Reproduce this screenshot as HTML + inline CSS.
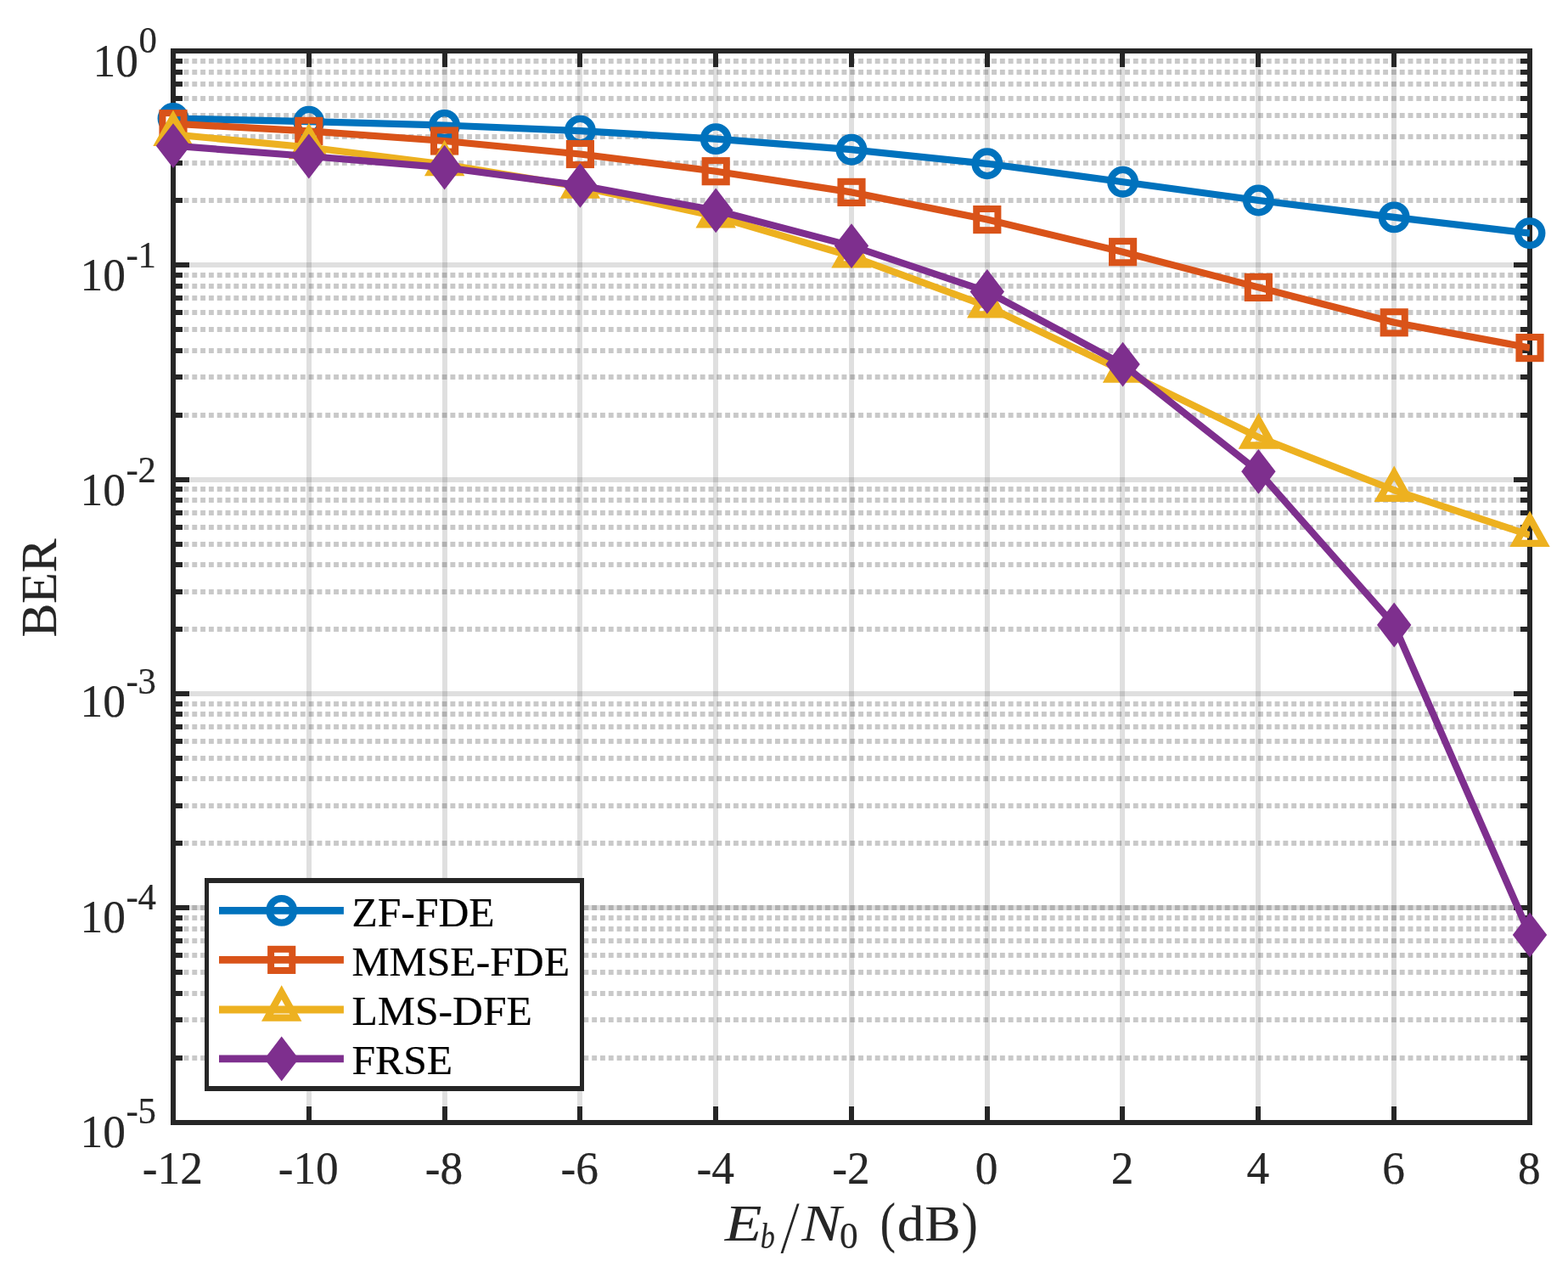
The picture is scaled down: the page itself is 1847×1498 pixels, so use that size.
<!DOCTYPE html>
<html lang="en"><head><meta charset="utf-8"><title>BER vs Eb/N0</title>
<style>html,body{margin:0;padding:0;background:#fff}body{width:1847px;height:1498px;overflow:hidden}svg{display:block}text{font-family:"Liberation Serif","Times New Roman",Times,serif;fill:#262626;stroke:#262626;stroke-width:0.25}.it{font-style:italic}.lg text{fill:#000;stroke:#000}</style></head><body>
<svg width="1847" height="1498" viewBox="0 0 1847 1498">
<rect width="1847" height="1498" fill="#fff"/>
<clipPath id="cp"><rect x="204" y="60" width="1598" height="1262"/></clipPath>
<g stroke="#262626" stroke-opacity="0.15" stroke-width="6" fill="none" shape-rendering="crispEdges"><path d="M364 60V1322"/><path d="M524 60V1322"/><path d="M683 60V1322"/><path d="M843 60V1322"/><path d="M1003 60V1322"/><path d="M1163 60V1322"/><path d="M1322 60V1322"/><path d="M1482 60V1322"/><path d="M1642 60V1322"/><path d="M204 312H1802"/><path d="M204 565H1802"/><path d="M204 817H1802"/><path d="M204 1069H1802"/></g>
<g stroke="#262626" stroke-opacity="0.25" stroke-width="6" fill="none" stroke-dasharray="5.9 3.91"><path d="M206.69 236H1802"/><path d="M206.69 192H1802"/><path d="M206.69 161H1802"/><path d="M206.69 136H1802"/><path d="M206.69 116H1802"/><path d="M206.69 99H1802"/><path d="M206.69 85H1802"/><path d="M206.69 72H1802"/><path d="M206.69 489H1802"/><path d="M206.69 444H1802"/><path d="M206.69 413H1802"/><path d="M206.69 388H1802"/><path d="M206.69 368H1802"/><path d="M206.69 351H1802"/><path d="M206.69 337H1802"/><path d="M206.69 324H1802"/><path d="M206.69 741H1802"/><path d="M206.69 697H1802"/><path d="M206.69 665H1802"/><path d="M206.69 641H1802"/><path d="M206.69 621H1802"/><path d="M206.69 604H1802"/><path d="M206.69 589H1802"/><path d="M206.69 576H1802"/><path d="M206.69 993H1802"/><path d="M206.69 949H1802"/><path d="M206.69 917H1802"/><path d="M206.69 893H1802"/><path d="M206.69 873H1802"/><path d="M206.69 856H1802"/><path d="M206.69 841H1802"/><path d="M206.69 829H1802"/><path d="M206.69 1246H1802"/><path d="M206.69 1201H1802"/><path d="M206.69 1170H1802"/><path d="M206.69 1145H1802"/><path d="M206.69 1125H1802"/><path d="M206.69 1108H1802"/><path d="M206.69 1094H1802"/><path d="M206.69 1081H1802"/><path d="M206.69 1069H1802"/></g>
<g stroke="#262626" stroke-width="6" fill="none" stroke-linecap="square" shape-rendering="crispEdges"><path d="M364 60V76"/><path d="M364 1322V1306"/><path d="M524 60V76"/><path d="M524 1322V1306"/><path d="M683 60V76"/><path d="M683 1322V1306"/><path d="M843 60V76"/><path d="M843 1322V1306"/><path d="M1003 60V76"/><path d="M1003 1322V1306"/><path d="M1163 60V76"/><path d="M1163 1322V1306"/><path d="M1322 60V76"/><path d="M1322 1322V1306"/><path d="M1482 60V76"/><path d="M1482 1322V1306"/><path d="M1642 60V76"/><path d="M1642 1322V1306"/><path d="M204 236H212"/><path d="M1802 236H1794"/><path d="M204 192H212"/><path d="M1802 192H1794"/><path d="M204 161H212"/><path d="M1802 161H1794"/><path d="M204 136H212"/><path d="M1802 136H1794"/><path d="M204 116H212"/><path d="M1802 116H1794"/><path d="M204 99H212"/><path d="M1802 99H1794"/><path d="M204 85H212"/><path d="M1802 85H1794"/><path d="M204 72H212"/><path d="M1802 72H1794"/><path d="M204 312H220"/><path d="M1802 312H1786"/><path d="M204 489H212"/><path d="M1802 489H1794"/><path d="M204 444H212"/><path d="M1802 444H1794"/><path d="M204 413H212"/><path d="M1802 413H1794"/><path d="M204 388H212"/><path d="M1802 388H1794"/><path d="M204 368H212"/><path d="M1802 368H1794"/><path d="M204 351H212"/><path d="M1802 351H1794"/><path d="M204 337H212"/><path d="M1802 337H1794"/><path d="M204 324H212"/><path d="M1802 324H1794"/><path d="M204 565H220"/><path d="M1802 565H1786"/><path d="M204 741H212"/><path d="M1802 741H1794"/><path d="M204 697H212"/><path d="M1802 697H1794"/><path d="M204 665H212"/><path d="M1802 665H1794"/><path d="M204 641H212"/><path d="M1802 641H1794"/><path d="M204 621H212"/><path d="M1802 621H1794"/><path d="M204 604H212"/><path d="M1802 604H1794"/><path d="M204 589H212"/><path d="M1802 589H1794"/><path d="M204 576H212"/><path d="M1802 576H1794"/><path d="M204 817H220"/><path d="M1802 817H1786"/><path d="M204 993H212"/><path d="M1802 993H1794"/><path d="M204 949H212"/><path d="M1802 949H1794"/><path d="M204 917H212"/><path d="M1802 917H1794"/><path d="M204 893H212"/><path d="M1802 893H1794"/><path d="M204 873H212"/><path d="M1802 873H1794"/><path d="M204 856H212"/><path d="M1802 856H1794"/><path d="M204 841H212"/><path d="M1802 841H1794"/><path d="M204 829H212"/><path d="M1802 829H1794"/><path d="M204 1069H220"/><path d="M1802 1069H1786"/><path d="M204 1246H212"/><path d="M1802 1246H1794"/><path d="M204 1201H212"/><path d="M1802 1201H1794"/><path d="M204 1170H212"/><path d="M1802 1170H1794"/><path d="M204 1145H212"/><path d="M1802 1145H1794"/><path d="M204 1125H212"/><path d="M1802 1125H1794"/><path d="M204 1108H212"/><path d="M1802 1108H1794"/><path d="M204 1094H212"/><path d="M1802 1094H1794"/><path d="M204 1081H212"/><path d="M1802 1081H1794"/><rect x="204" y="60" width="1598" height="1262" stroke-linejoin="miter"/></g>
<g><polyline points="204,139.5 363.8,143.2 523.6,147.5 683.4,154.1 843.2,163.6 1003,176.2 1162.8,192.8 1322.6,214.2 1482.4,236 1642.2,255.9 1802,274.6" fill="none" stroke="#0072BD" stroke-width="8.2" stroke-linejoin="round" clip-path="url(#cp)"/>
<circle cx="204" cy="139.5" r="14.3" fill="none" stroke="#0072BD" stroke-width="8.3"/>
<circle cx="363.8" cy="143.2" r="14.3" fill="none" stroke="#0072BD" stroke-width="8.3"/>
<circle cx="523.6" cy="147.5" r="14.3" fill="none" stroke="#0072BD" stroke-width="8.3"/>
<circle cx="683.4" cy="154.1" r="14.3" fill="none" stroke="#0072BD" stroke-width="8.3"/>
<circle cx="843.2" cy="163.6" r="14.3" fill="none" stroke="#0072BD" stroke-width="8.3"/>
<circle cx="1003" cy="176.2" r="14.3" fill="none" stroke="#0072BD" stroke-width="8.3"/>
<circle cx="1162.8" cy="192.8" r="14.3" fill="none" stroke="#0072BD" stroke-width="8.3"/>
<circle cx="1322.6" cy="214.2" r="14.3" fill="none" stroke="#0072BD" stroke-width="8.3"/>
<circle cx="1482.4" cy="236" r="14.3" fill="none" stroke="#0072BD" stroke-width="8.3"/>
<circle cx="1642.2" cy="255.9" r="14.3" fill="none" stroke="#0072BD" stroke-width="8.3"/>
<circle cx="1802" cy="274.6" r="14.3" fill="none" stroke="#0072BD" stroke-width="8.3"/>
</g>
<g><polyline points="204,145.7 363.8,154.4 523.6,166 683.4,181.5 843.2,201.7 1003,226.4 1162.8,258.6 1322.6,296.7 1482.4,338.4 1642.2,379.8 1802,409.6" fill="none" stroke="#D95319" stroke-width="8.2" stroke-linejoin="round" clip-path="url(#cp)"/>
<rect x="191.42" y="133.12" width="25.16" height="25.16" fill="none" stroke="#D95319" stroke-width="8"/>
<rect x="351.22" y="141.82" width="25.16" height="25.16" fill="none" stroke="#D95319" stroke-width="8"/>
<rect x="511.02" y="153.42" width="25.16" height="25.16" fill="none" stroke="#D95319" stroke-width="8"/>
<rect x="670.82" y="168.92" width="25.16" height="25.16" fill="none" stroke="#D95319" stroke-width="8"/>
<rect x="830.62" y="189.12" width="25.16" height="25.16" fill="none" stroke="#D95319" stroke-width="8"/>
<rect x="990.42" y="213.82" width="25.16" height="25.16" fill="none" stroke="#D95319" stroke-width="8"/>
<rect x="1150.22" y="246.02" width="25.16" height="25.16" fill="none" stroke="#D95319" stroke-width="8"/>
<rect x="1310.02" y="284.12" width="25.16" height="25.16" fill="none" stroke="#D95319" stroke-width="8"/>
<rect x="1469.82" y="325.82" width="25.16" height="25.16" fill="none" stroke="#D95319" stroke-width="8"/>
<rect x="1629.62" y="367.22" width="25.16" height="25.16" fill="none" stroke="#D95319" stroke-width="8"/>
<rect x="1789.42" y="397.02" width="25.16" height="25.16" fill="none" stroke="#D95319" stroke-width="8"/>
</g>
<g><polyline points="204,158.3 363.8,173.5 523.6,193.5 683.4,220 843.2,254.7 1003,301.8 1162.8,360.7 1322.6,436.9 1482.4,514.9 1642.2,577.3 1802,630.2" fill="none" stroke="#EDB120" stroke-width="8.2" stroke-linejoin="round" clip-path="url(#cp)"/>
<path d="M204 138.1L220.65 167.9L187.35 167.9Z" fill="none" stroke="#EDB120" stroke-width="8.3" stroke-linejoin="miter" stroke-miterlimit="10"/>
<path d="M363.8 153.3L380.45 183.1L347.15 183.1Z" fill="none" stroke="#EDB120" stroke-width="8.3" stroke-linejoin="miter" stroke-miterlimit="10"/>
<path d="M523.6 173.3L540.25 203.1L506.95 203.1Z" fill="none" stroke="#EDB120" stroke-width="8.3" stroke-linejoin="miter" stroke-miterlimit="10"/>
<path d="M683.4 199.8L700.05 229.6L666.75 229.6Z" fill="none" stroke="#EDB120" stroke-width="8.3" stroke-linejoin="miter" stroke-miterlimit="10"/>
<path d="M843.2 234.5L859.85 264.3L826.55 264.3Z" fill="none" stroke="#EDB120" stroke-width="8.3" stroke-linejoin="miter" stroke-miterlimit="10"/>
<path d="M1003 281.6L1019.65 311.4L986.35 311.4Z" fill="none" stroke="#EDB120" stroke-width="8.3" stroke-linejoin="miter" stroke-miterlimit="10"/>
<path d="M1162.8 340.5L1179.45 370.3L1146.15 370.3Z" fill="none" stroke="#EDB120" stroke-width="8.3" stroke-linejoin="miter" stroke-miterlimit="10"/>
<path d="M1322.6 416.7L1339.25 446.5L1305.95 446.5Z" fill="none" stroke="#EDB120" stroke-width="8.3" stroke-linejoin="miter" stroke-miterlimit="10"/>
<path d="M1482.4 494.7L1499.05 524.5L1465.75 524.5Z" fill="none" stroke="#EDB120" stroke-width="8.3" stroke-linejoin="miter" stroke-miterlimit="10"/>
<path d="M1642.2 557.1L1658.85 586.9L1625.55 586.9Z" fill="none" stroke="#EDB120" stroke-width="8.3" stroke-linejoin="miter" stroke-miterlimit="10"/>
<path d="M1802 610L1818.65 639.8L1785.35 639.8Z" fill="none" stroke="#EDB120" stroke-width="8.3" stroke-linejoin="miter" stroke-miterlimit="10"/>
</g>
<g><polyline points="204,171.7 363.8,184 523.6,197.2 683.4,218.4 843.2,247.8 1003,289.6 1162.8,343.4 1322.6,429.1 1482.4,555.3 1642.2,736 1802,1101" fill="none" stroke="#7E2F8E" stroke-width="8.2" stroke-linejoin="round" clip-path="url(#cp)"/>
<path d="M204 145.3L224.2 171.7L204 198.1L183.8 171.7Z" fill="#7E2F8E"/>
<path d="M363.8 157.6L384 184L363.8 210.4L343.6 184Z" fill="#7E2F8E"/>
<path d="M523.6 170.8L543.8 197.2L523.6 223.6L503.4 197.2Z" fill="#7E2F8E"/>
<path d="M683.4 192L703.6 218.4L683.4 244.8L663.2 218.4Z" fill="#7E2F8E"/>
<path d="M843.2 221.4L863.4 247.8L843.2 274.2L823 247.8Z" fill="#7E2F8E"/>
<path d="M1003 263.2L1023.2 289.6L1003 316L982.8 289.6Z" fill="#7E2F8E"/>
<path d="M1162.8 317L1183 343.4L1162.8 369.8L1142.6 343.4Z" fill="#7E2F8E"/>
<path d="M1322.6 402.7L1342.8 429.1L1322.6 455.5L1302.4 429.1Z" fill="#7E2F8E"/>
<path d="M1482.4 528.9L1502.6 555.3L1482.4 581.7L1462.2 555.3Z" fill="#7E2F8E"/>
<path d="M1642.2 709.6L1662.4 736L1642.2 762.4L1622 736Z" fill="#7E2F8E"/>
<path d="M1802 1074.6L1822.2 1101L1802 1127.4L1781.8 1101Z" fill="#7E2F8E"/>
</g>
<g font-size="55" text-anchor="middle"><text transform="translate(203.4 1393.9) scale(0.97 1)">-12</text><text transform="translate(363.2 1393.9) scale(0.97 1)">-10</text><text transform="translate(523 1393.9) scale(0.97 1)">-8</text><text transform="translate(682.8 1393.9) scale(0.97 1)">-6</text><text transform="translate(842.6 1393.9) scale(0.97 1)">-4</text><text transform="translate(1002.4 1393.9) scale(0.97 1)">-2</text><text transform="translate(1162.2 1393.9) scale(0.97 1)">0</text><text transform="translate(1322 1393.9) scale(0.97 1)">2</text><text transform="translate(1481.8 1393.9) scale(0.97 1)">4</text><text transform="translate(1641.6 1393.9) scale(0.97 1)">6</text><text transform="translate(1801.4 1393.9) scale(0.97 1)">8</text></g>
<g font-size="55"><text transform="translate(109.55 89.6) scale(0.97 1)">10<tspan font-size="44" dx="0.62" dy="-27.2">0</tspan></text><text transform="translate(94.6 342) scale(0.97 1)">10<tspan font-size="44" dx="0.46" dy="-27.2">-1</tspan></text><text transform="translate(94.6 595.1) scale(0.97 1)">10<tspan font-size="44" dx="0.46" dy="-27.2">-2</tspan></text><text transform="translate(94.6 844) scale(0.97 1)">10<tspan font-size="44" dx="0.46" dy="-27.2">-3</tspan></text><text transform="translate(94.6 1097.9) scale(0.97 1)">10<tspan font-size="44" dx="0.46" dy="-27.2">-4</tspan></text><text transform="translate(94.6 1350.5) scale(0.97 1)">10<tspan font-size="44" dx="0.46" dy="-27.2">-5</tspan></text></g>
<text font-size="58.67" text-anchor="middle" transform="translate(66.1 692.4) rotate(-90) scale(1.017 1)">BER</text>
<text style="white-space:pre"><tspan class="it" x="853.72" y="1460.8" font-size="60.61" textLength="43.72" lengthAdjust="spacingAndGlyphs" style="stroke:none">E</tspan><tspan class="it" x="895.83" y="1469.88" font-size="42" textLength="17.09" lengthAdjust="spacingAndGlyphs" style="stroke-width:0.2">b</tspan><tspan x="918.8" y="1474.82" font-size="88.12" textLength="23.65" lengthAdjust="spacingAndGlyphs" style="stroke:#fff;stroke-width:1.1">/</tspan><tspan class="it" x="944.35" y="1460.8" font-size="61.08" textLength="46.83" lengthAdjust="spacingAndGlyphs" style="stroke:none">N</tspan><tspan x="988.97" y="1470.36" font-size="44.3" textLength="21.67" lengthAdjust="spacingAndGlyphs" style="stroke-width:0.2">0</tspan><tspan font-size="20"> </tspan><tspan x="1036.75" y="1462.26" font-size="65.44" textLength="18.15" lengthAdjust="spacingAndGlyphs" style="stroke-width:0.2">(</tspan><tspan x="1057.01" y="1460.82" font-size="58.29" textLength="31.32" lengthAdjust="spacingAndGlyphs" style="stroke-width:0.2">d</tspan><tspan x="1089.3" y="1460.8" font-size="60" textLength="42.17" lengthAdjust="spacingAndGlyphs" style="stroke-width:0.2">B</tspan><tspan x="1132.79" y="1462.26" font-size="65.44" textLength="18.96" lengthAdjust="spacingAndGlyphs" style="stroke-width:0.2">)</tspan></text>
<rect x="243.5" y="1037" width="442" height="245" fill="#fff" stroke="#262626" stroke-width="5.4" shape-rendering="crispEdges"/>
<g class="lg">
<path d="M258 1072.4H404.9" stroke="#0072BD" stroke-width="8.8" fill="none"/>
<circle cx="331.7" cy="1072.4" r="14.3" fill="none" stroke="#0072BD" stroke-width="8.3"/>
<text font-size="48" transform="translate(414.4 1090.8) scale(1.035 1)">ZF-FDE</text>
<path d="M258 1130.4H404.9" stroke="#D95319" stroke-width="8.8" fill="none"/>
<rect x="319.12" y="1117.82" width="25.16" height="25.16" fill="none" stroke="#D95319" stroke-width="8"/>
<text font-size="48" transform="translate(414.4 1148.9) scale(1.035 1)">MMSE-FDE</text>
<path d="M258 1189H404.9" stroke="#EDB120" stroke-width="8.8" fill="none"/>
<path d="M331.7 1168.8L348.35 1198.6L315.05 1198.6Z" fill="none" stroke="#EDB120" stroke-width="8.3" stroke-linejoin="miter" stroke-miterlimit="10"/>
<text font-size="48" transform="translate(414.4 1206.7) scale(1.035 1)">LMS-DFE</text>
<path d="M258 1246.9H404.9" stroke="#7E2F8E" stroke-width="8.8" fill="none"/>
<path d="M331.7 1220.5L351.9 1246.9L331.7 1273.3L311.5 1246.9Z" fill="#7E2F8E"/>
<text font-size="48" transform="translate(414.4 1264.9) scale(1.035 1)">FRSE</text>
</g>
</svg></body></html>
